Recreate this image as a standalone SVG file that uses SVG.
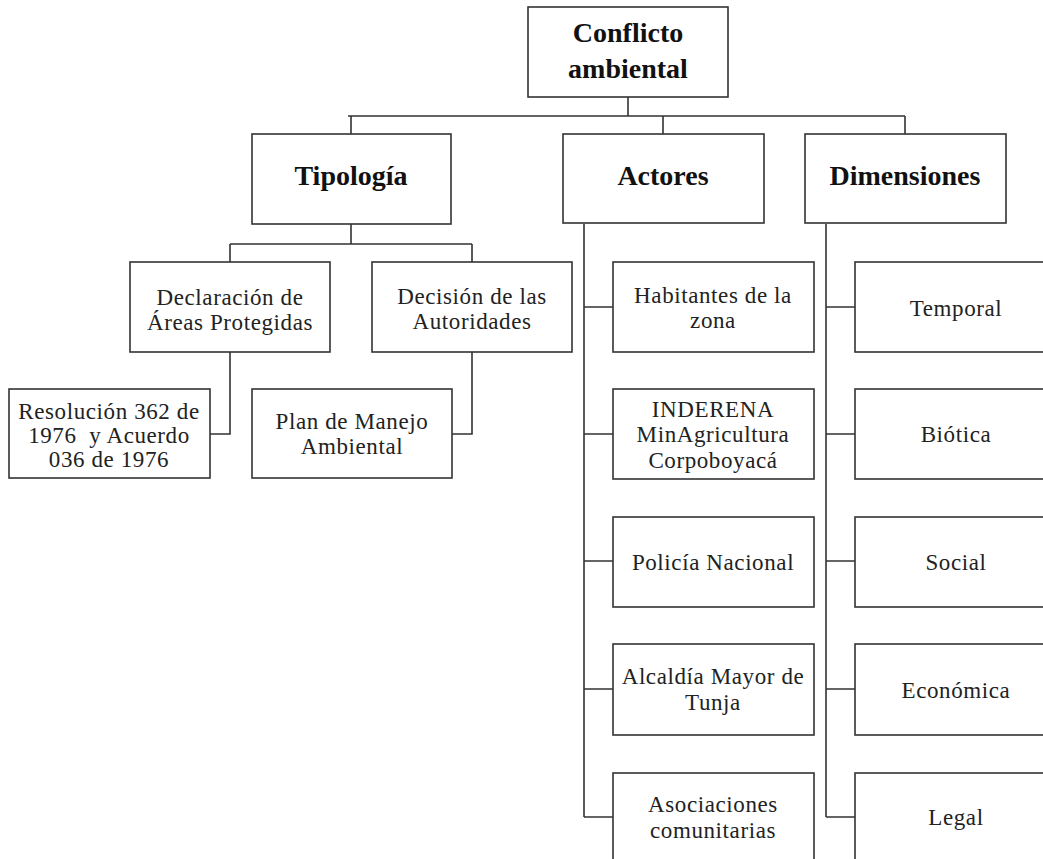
<svg xmlns="http://www.w3.org/2000/svg" width="1043" height="859" viewBox="0 0 1043 859">
<style>
.box{fill:#fff;stroke:#333;stroke-width:1.6}
.ln{fill:none;stroke:#333;stroke-width:1.6}
.t{font-family:"Liberation Serif","Times New Roman",serif;font-size:23px;fill:#222;text-anchor:middle;letter-spacing:0.6px}
.b{font-family:"Liberation Serif","Times New Roman",serif;font-size:28px;font-weight:bold;fill:#111;text-anchor:middle}
</style>
<rect width="1043" height="859" fill="#fff"/>
<g id="connectors">
<path class="ln" d="M628 97V116M348 116H905M351 116V134M663 116V134M905 116V134"/>
<path class="ln" d="M351 224V244M230 244H472M230 244V262M472 244V262"/>
<path class="ln" d="M230 352V434H210M472 352V434H452"/>
<path class="ln" d="M584 224V817M584 307H613M584 434H613M584 561H613M584 689H613M584 817H613"/>
<path class="ln" d="M826 224V817M826 307H855M826 434H855M826 561H855M826 689H855M826 817H855"/>
</g>
<g id="n-conflicto"><rect class="box" x="528" y="7" width="200" height="90"/><text class="b" x="628" y="42" font-size="29">Conflicto</text><text class="b" x="628" y="78" font-size="29">ambiental</text></g>
<g id="n-tipologia"><rect class="box" x="252" y="134" width="199" height="90"/><text class="b" x="351" y="185">Tipología</text></g>
<g id="n-actores"><rect class="box" x="563" y="134" width="201" height="89"/><text class="b" x="663" y="185">Actores</text></g>
<g id="n-dimensiones"><rect class="box" x="805" y="134" width="201" height="89"/><text class="b" x="905" y="185">Dimensiones</text></g>
<g id="n-declaracion"><rect class="box" x="130" y="262" width="200" height="90"/><text class="t" x="230" y="305">Declaración de</text><text class="t" x="230" y="330">Áreas Protegidas</text></g>
<g id="n-decision"><rect class="box" x="372" y="262" width="200" height="90"/><text class="t" x="472" y="304">Decisión de las</text><text class="t" x="472" y="329">Autoridades</text></g>
<g id="n-resolucion"><rect class="box" x="9" y="389" width="201" height="89"/><text class="t" x="109" y="419">Resolución 362 de</text><text class="t" x="109" y="443" xml:space="preserve">1976  y Acuerdo</text><text class="t" x="109" y="467">036 de 1976</text></g>
<g id="n-plan"><rect class="box" x="252" y="389" width="200" height="89"/><text class="t" x="352" y="429">Plan de Manejo</text><text class="t" x="352" y="454">Ambiental</text></g>
<g id="n-habitantes"><rect class="box" x="613" y="262" width="201" height="90"/><text class="t" x="713" y="303">Habitantes de la</text><text class="t" x="713" y="328">zona</text></g>
<g id="n-inderena"><rect class="box" x="613" y="389" width="201" height="90"/><text class="t" x="713" y="417">INDERENA</text><text class="t" x="713" y="442">MinAgricultura</text><text class="t" x="713" y="468">Corpoboyacá</text></g>
<g id="n-policia"><rect class="box" x="613" y="517" width="201" height="90"/><text class="t" x="713" y="570">Policía Nacional</text></g>
<g id="n-alcaldia"><rect class="box" x="613" y="644" width="201" height="91"/><text class="t" x="713" y="684">Alcaldía Mayor de</text><text class="t" x="713" y="710">Tunja</text></g>
<g id="n-asociaciones"><rect class="box" x="613" y="773" width="201" height="100"/><text class="t" x="713" y="812">Asociaciones</text><text class="t" x="713" y="838">comunitarias</text></g>
<g id="n-temporal"><rect class="box" x="855" y="262" width="201" height="90"/><text class="t" x="956" y="316">Temporal</text></g>
<g id="n-biotica"><rect class="box" x="855" y="389" width="201" height="90"/><text class="t" x="956" y="442">Biótica</text></g>
<g id="n-social"><rect class="box" x="855" y="517" width="201" height="90"/><text class="t" x="956" y="570">Social</text></g>
<g id="n-economica"><rect class="box" x="855" y="644" width="201" height="91"/><text class="t" x="956" y="698">Económica</text></g>
<g id="n-legal"><rect class="box" x="855" y="773" width="201" height="100"/><text class="t" x="956" y="825">Legal</text></g>
</svg>
